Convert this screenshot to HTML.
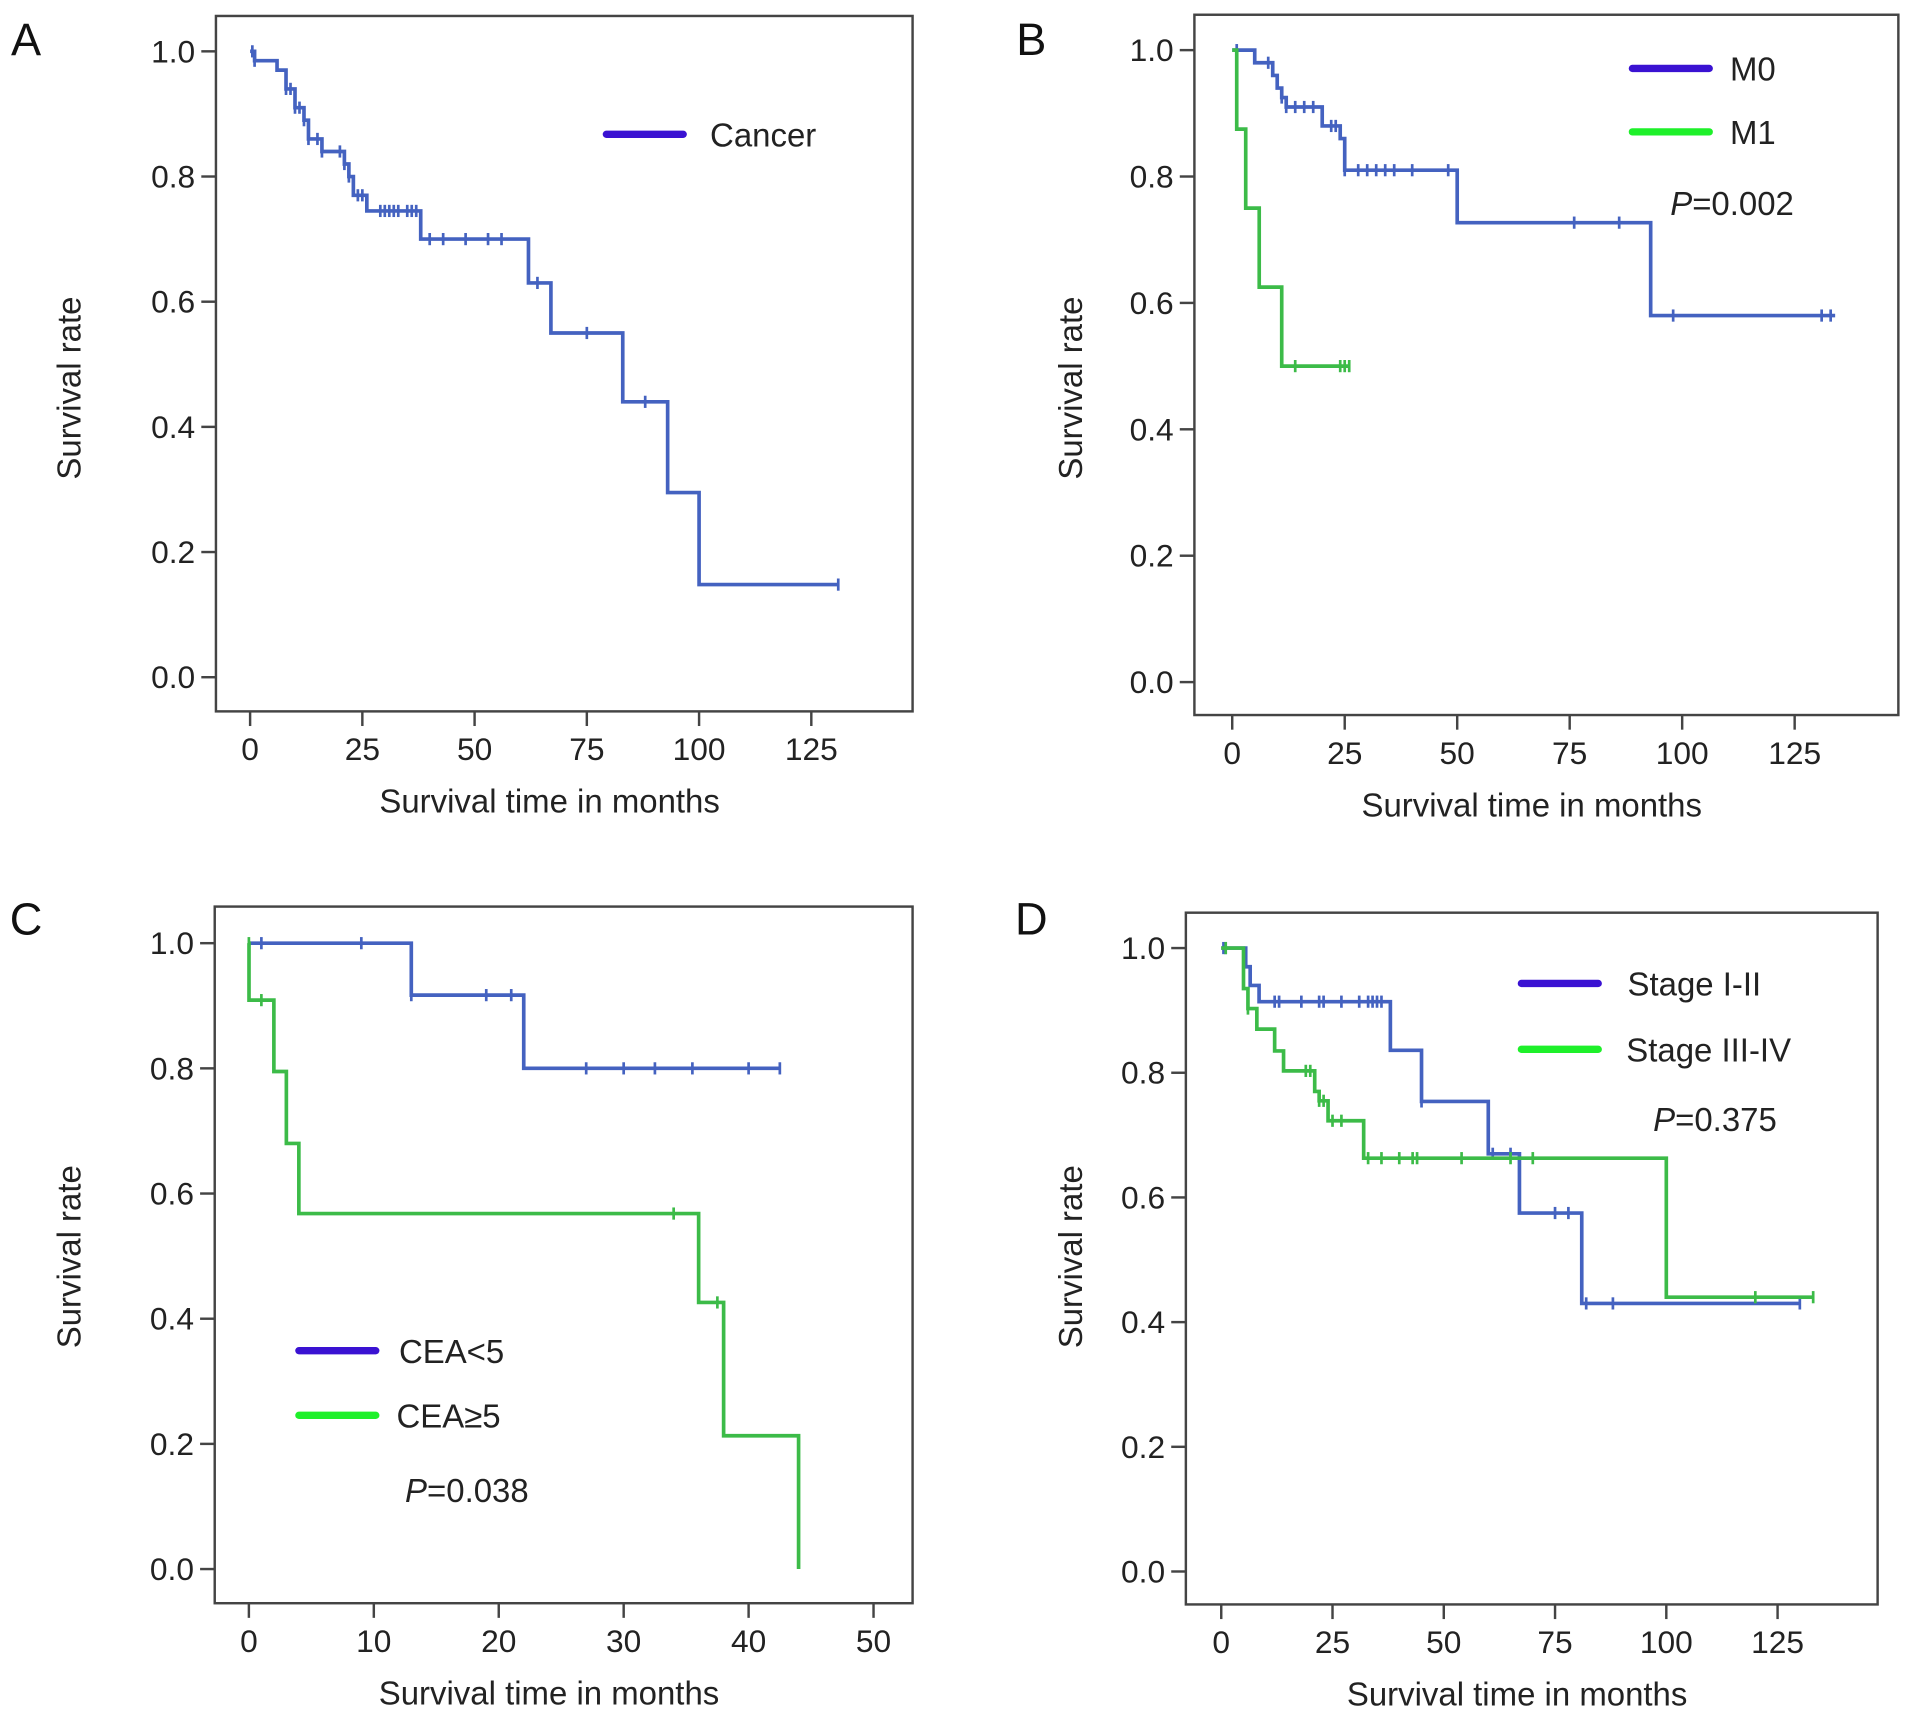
<!DOCTYPE html>
<html><head><meta charset="utf-8">
<style>
html,body{margin:0;padding:0;background:#fff;}
svg{display:block;font-family:"Liberation Sans",Arial,sans-serif;}
</style></head>
<body>
<svg id="fig" width="1913" height="1718" viewBox="0 0 1568 1408" xmlns="http://www.w3.org/2000/svg"></svg>
<script>
// ---- Data ----
// Panel A
const aTimes = [0, 1, 6, 8, 10, 12, 13, 16, 21, 22, 23, 26, 38, 62, 67, 83, 93, 100];
const aSurv  = [1.0, 0.985, 0.97, 0.94, 0.91, 0.89, 0.86, 0.84, 0.82, 0.80, 0.77, 0.745, 0.70, 0.63, 0.55, 0.44, 0.295, 0.148];
const aEnd = 131;
const aCens = [0.5, 1, 8, 9, 10, 11, 12, 13, 15, 16, 20, 21, 22, 24, 25, 29, 30, 31, 32, 33, 35, 36, 37, 40, 43, 48, 53, 56, 64, 75, 88, 131];
// Panel B
const bM0Times = [0, 5, 9, 10, 11, 12, 13, 20, 24, 25, 50, 93];
const bM0Surv  = [1.0, 0.98, 0.96, 0.94, 0.925, 0.91, 0.91, 0.88, 0.86, 0.81, 0.727, 0.58];
const bM0End = 134;
const bM0Cens = [1, 8, 11, 12, 14, 16, 18, 22, 23, 25, 28, 30, 32, 34, 36, 40, 48, 76, 86, 98, 131, 133];
const bM1Times = [0, 1, 3, 6, 11];
const bM1Surv  = [1.0, 0.875, 0.75, 0.625, 0.5];
const bM1End = 26;
const bM1Cens = [14, 24, 25, 26];
// Panel C
const cLowTimes = [0, 13, 22];
const cLowSurv  = [1.0, 0.917, 0.80];
const cLowEnd = 42.5;
const cLowCens = [1, 9, 13, 19, 21, 27, 30, 32.5, 35.5, 40, 42.5];
const cHighTimes = [0, 0.01, 2, 3, 4, 36, 38, 44];
const cHighSurv  = [1.0, 0.909, 0.795, 0.68, 0.568, 0.426, 0.213, 0.0];
const cHighEnd = 44;
const cHighCens = [0, 1, 34, 37.5];
// Panel D
const dEarlyTimes = [0, 5.5, 6.5, 8.5, 38, 45, 60, 67, 81];
const dEarlySurv  = [1.0, 0.97, 0.94, 0.914, 0.836, 0.754, 0.67, 0.575, 0.43];
const dEarlyEnd = 130;
const dEarlyCens = [0.5, 1, 12, 13, 18, 22, 23, 27, 31, 33, 34, 35, 36, 45, 61, 65, 75, 78, 82, 88, 130];
const dLateTimes = [0, 5, 6, 8, 12, 14, 21, 22, 24, 32, 100];
const dLateSurv  = [1.0, 0.935, 0.903, 0.87, 0.835, 0.803, 0.77, 0.755, 0.723, 0.663, 0.44];
const dLateEnd = 133;
const dLateCens = [1, 6, 19, 20, 22, 23, 25, 27, 33, 36, 40, 43, 44, 54, 65, 70, 120, 133];

const yTicks = [0, 0.2, 0.4, 0.6, 0.8, 1.0];
const xTicksMonths = [0, 25, 50, 75, 100, 125];
const xTicksC = [0, 10, 20, 30, 40, 50];

const BLUE = '#4462c0', GREEN = '#3cbb48', LBLUE = '#3a12d2', LGREEN = '#1ef02a';
const NS = 'http://www.w3.org/2000/svg';
const svg = document.getElementById('fig');

function mk(tag, attrs, parent, text) {
  const e = document.createElementNS(NS, tag);
  for (const k in attrs) e.setAttribute(k, attrs[k]);
  if (text !== undefined) e.textContent = text;
  (parent || svg).appendChild(e);
  return e;
}

function panel(cfg) {
  const g = mk('g', {});
  
  
  const xs = v => cfg.x0 + (cfg.x1 - cfg.x0) * v / cfg.xRef;
  const ys = v => cfg.y0 + (cfg.y1 - cfg.y0) * v;
  const box = mk('rect', {x: cfg.L, y: cfg.T, width: cfg.R - cfg.L, height: cfg.B - cfg.T, fill: 'none', stroke: '#444', 'stroke-width': 2}, g);
  
  
  const lt = mk('text', {x: cfg.labX, y: cfg.labY, 'font-size': 37, fill: '#111'}, g, cfg.id);
  
  
  yTicks.forEach(v => {
    mk('line', {x1: cfg.L - 12, x2: cfg.L, y1: ys(v), y2: ys(v), stroke: '#444', 'stroke-width': 2}, g);
    const t = mk('text', {x: cfg.L - 17, y: ys(v) + 9, 'font-size': 26, 'text-anchor': 'end', fill: '#222'}, g, v.toFixed(1));
    
    
  });
  cfg.xt.forEach(v => {
    mk('line', {x1: xs(v), x2: xs(v), y1: cfg.B, y2: cfg.B + 12, stroke: '#444', 'stroke-width': 2}, g);
    const t = mk('text', {x: xs(v), y: cfg.B + 40, 'font-size': 26, 'text-anchor': 'middle', fill: '#222'}, g, String(v));
    
    
  });
  const xtT = mk('text', {x: (cfg.L + cfg.R) / 2 - 12, y: cfg.B + 83, 'font-size': 27, 'text-anchor': 'middle', fill: '#222'}, g, 'Survival time in months');
  
  
  const cy = cfg.ytY, cx = cfg.ytX;
  const ytT = mk('text', {x: cx, y: cy, 'font-size': 27, 'text-anchor': 'middle', fill: '#222', transform: 'rotate(-90 ' + cx + ' ' + cy + ')'}, g, 'Survival rate');
  
  

  cfg.series.forEach(s => {
    let d = 'M' + xs(s.t[0]) + ' ' + ys(s.s[0]);
    for (let i = 1; i < s.t.length; i++) {
      d += ' H' + xs(s.t[i]) + ' V' + ys(s.s[i]);
    }
    d += ' H' + xs(s.end);
    const p = mk('path', {d: d, fill: 'none', stroke: s.color, 'stroke-width': 3}, g);
    
    
    s.cens.forEach(c => {
      let val = s.s[0];
      for (let i = 0; i < s.t.length; i++) if (s.t[i] <= c) val = s.s[i];
      const m = mk('line', {x1: xs(c), x2: xs(c), y1: ys(val) - 5, y2: ys(val) + 5, stroke: s.color, 'stroke-width': 2.2}, g);
      
      
    });
  });
  cfg.legend.forEach(l => {
    const ln = mk('line', {x1: l.x, x2: l.x + 63, y1: l.y, y2: l.y, stroke: l.color, 'stroke-width': 6, 'stroke-linecap': 'round'}, g);
    
    
    const t = mk('text', {x: l.x + l.dx, y: l.y + 10, 'font-size': 27, fill: '#222'}, g, l.text);
    
    
  });
  if (cfg.p) {
    const t = mk('text', {x: cfg.p[0], y: cfg.p[1], 'font-size': 27, fill: '#222'}, g);
    
    
    mk('tspan', {'font-style': 'italic'}, t, 'P');
    mk('tspan', {}, t, '=' + cfg.p[2]);
  }
}

panel({id: 'A', L: 177, R: 748, T: 13, B: 583, x0: 205, x1: 665, xRef: 125, y0: 555, y1: 42, labX: 9, labY: 45, xt: xTicksMonths, ytX: 66, ytY: 318,
  series: [{name: 'cancer', t: aTimes, s: aSurv, end: aEnd, cens: aCens, color: BLUE}],
  legend: [{x: 497, y: 110, dx: 85, text: 'Cancer', color: LBLUE}]});
panel({id: 'B', L: 979, R: 1556, T: 12, B: 586, x0: 1010, x1: 1471, xRef: 125, y0: 559, y1: 41, labX: 833, labY: 45, xt: xTicksMonths, ytX: 887, ytY: 318,
  series: [{name: 'm0', t: bM0Times, s: bM0Surv, end: bM0End, cens: bM0Cens, color: BLUE},
           {name: 'm1', t: bM1Times, s: bM1Surv, end: bM1End, cens: bM1Cens, color: GREEN}],
  legend: [{x: 1338, y: 56, dx: 80, text: 'M0', color: LBLUE}, {x: 1338, y: 108, dx: 80, text: 'M1', color: LGREEN}],
  p: [1369, 176, '0.002']});
panel({id: 'C', L: 176, R: 748, T: 743, B: 1314, x0: 204, x1: 716, xRef: 50, y0: 1286, y1: 773, labX: 8, labY: 766, xt: xTicksC, ytX: 66, ytY: 1030,
  series: [{name: 'cea-low', t: cLowTimes, s: cLowSurv, end: cLowEnd, cens: cLowCens, color: BLUE},
           {name: 'cea-high', t: cHighTimes, s: cHighSurv, end: cHighEnd, cens: cHighCens, color: GREEN}],
  legend: [{x: 245, y: 1107, dx: 82, text: 'CEA<5', color: LBLUE}, {x: 245, y: 1160, dx: 80, text: 'CEA\u22655', color: LGREEN}],
  p: [332, 1231, '0.038']});
panel({id: 'D', L: 972, R: 1539, T: 748, B: 1315, x0: 1001, x1: 1457, xRef: 125, y0: 1288, y1: 777, labX: 832, labY: 766, xt: xTicksMonths, ytX: 887, ytY: 1030,
  series: [{name: 'stage-early', t: dEarlyTimes, s: dEarlySurv, end: dEarlyEnd, cens: dEarlyCens, color: BLUE},
           {name: 'stage-late', t: dLateTimes, s: dLateSurv, end: dLateEnd, cens: dLateCens, color: GREEN}],
  legend: [{x: 1247, y: 806, dx: 87, text: 'Stage I-II', color: LBLUE}, {x: 1247, y: 860, dx: 86, text: 'Stage III-IV', color: LGREEN}],
  p: [1355, 927, '0.375']});
</script>
</body></html>
